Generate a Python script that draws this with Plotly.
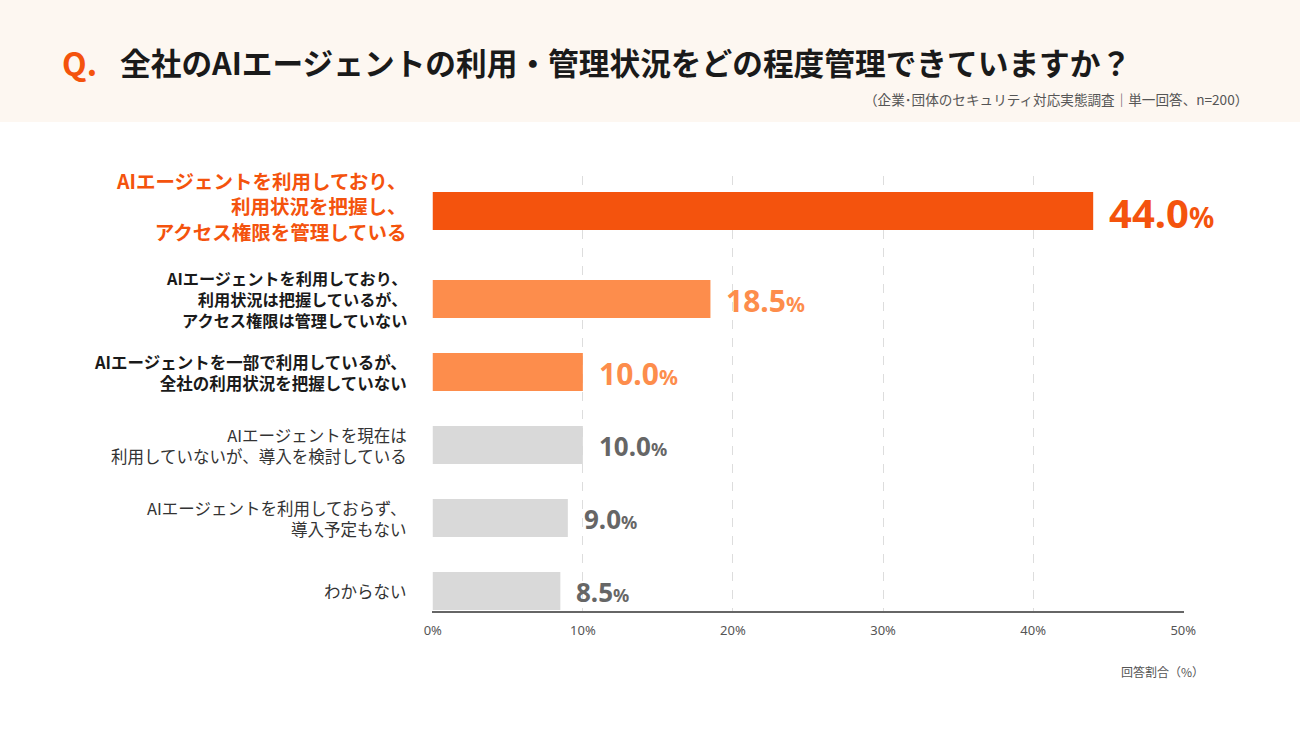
import plotly.graph_objects as go

categories = [
    "AIエージェントを利用しており、<br>利用状況を把握し、<br>アクセス権限を管理している",
    "AIエージェントを利用しており、<br>利用状況は把握しているが、<br>アクセス権限は管理していない",
    "AIエージェントを一部で利用しているが、<br>全社の利用状況を把握していない",
    "AIエージェントを現在は<br>利用していないが、導入を検討している",
    "AIエージェントを利用しておらず、<br>導入予定もない",
    "わからない",
]
values = [44.0, 18.5, 10.0, 10.0, 9.0, 8.5]
value_labels = ["44.0", "18.5", "10.0", "10.0", "9.0", "8.5"]
x_ticks = [0, 10, 20, 30, 40, 50]
x_tick_labels = ["0%", "10%", "20%", "30%", "40%", "50%"]

title_text = "全社のAIエージェントの利用・管理状況をどの程度管理できていますか？"
subtitle_text = "（企業･団体のセキュリティ対応実態調査｜単一回答、n=200）"
axis_title = "回答割合（%）"

W, H = 1300, 731
L, R, T, B = 432, 1184, 176, 611
STEP = 73.0   # px per category
BAR_PX = 38.0
LIFT = [15, 0, 0, 0, 0, 0]        # extra upward shift (px) of the highlighted row
LABEL_LIFT = [20, 0, 0, 0, 0, 0]

def px(x):
    return (x - L) / (R - L)

def py(y):
    return (B - y) / (B - T)

y_bottom = len(categories) - 1 + 20 / STEP
y_top = y_bottom - (B - T) / STEP
bar_w = BAR_PX / STEP

bar_colors = ["#F4530D", "#FD8D4C", "#FD8D4C", "#D9D9D9", "#D9D9D9", "#D9D9D9"]
label_colors = ["#F4530D", "#FD8D4C", "#FD8D4C", "#666666", "#666666", "#666666"]
label_sizes = [40, 30, 30, 26, 26, 26]
cat_styles = [
    dict(size=19.5, color="#F4530D", bold=True),
    dict(size=16.2, color="#1a1a1a", bold=True),
    dict(size=16.5, color="#1a1a1a", bold=True),
    dict(size=16.5, color="#333333", bold=False),
    dict(size=16.5, color="#333333", bold=False),
    dict(size=16.5, color="#333333", bold=False),
]

JP = "Noto Sans CJK JP"
COND = "Noto Sans, sans-serif"
STRETCH = "font-stretch:62.5%"

fig = go.Figure()
fig.add_trace(go.Bar(
    x=values,
    y=categories,
    orientation="h",
    marker=dict(color=bar_colors, line=dict(width=0)),
    width=bar_w,
    offset=[-bar_w / 2 - lf / STEP for lf in LIFT],
    hoverinfo="skip",
))

annotations = []
for cat, v, lab, col, sz, lf in zip(categories, values, value_labels, label_colors, label_sizes, LIFT):
    annotations.append(dict(
        x=v, y=cat, xref="x", yref="y",
        text=(f"<span style='{STRETCH}'>{lab}</span>"
              f"<span style='{STRETCH};font-size:{int(sz*0.7)}px'>%</span>"),
        showarrow=False, xanchor="left", yanchor="middle", xshift=14, yshift=-1 + lf,
        font=dict(family=COND, size=sz, color=col, weight=700),
    ))

for cat, st, lf in zip(categories, cat_styles, LABEL_LIFT):
    txt = f"<b>{cat}</b>" if st["bold"] else cat
    annotations.append(dict(
        x=px(409), y=cat, xref="paper", yref="y",
        text=txt, showarrow=False, xanchor="right", yanchor="middle", align="right",
        yshift=lf,
        font=dict(family=JP, size=st["size"], color=st["color"]),
    ))

annotations += [
    dict(x=px(60), y=py(62), xref="paper", yref="paper", text="<b>Q.</b>",
         showarrow=False, xanchor="left", yanchor="middle",
         font=dict(family=JP, size=32, color="#F4530D")),
    dict(x=px(118), y=py(61), xref="paper", yref="paper", text=f"<b>{title_text}</b>",
         showarrow=False, xanchor="left", yanchor="middle",
         font=dict(family=JP, size=30.7, color="#1a1a1a")),
    dict(x=px(1250), y=py(99), xref="paper", yref="paper", text=subtitle_text,
         showarrow=False, xanchor="right", yanchor="middle",
         font=dict(family=JP, size=13.6, color="#555555")),
    dict(x=px(1206), y=py(671), xref="paper", yref="paper", text=axis_title,
         showarrow=False, xanchor="right", yanchor="middle",
         font=dict(family=JP, size=12, color="#555555")),
]

shapes = [
    dict(type="rect", xref="paper", yref="paper", x0=px(-10), x1=px(W + 10),
         y0=py(122), y1=py(-10), fillcolor="#FDF7F1", line=dict(width=0), layer="below"),
]

fig.update_layout(
    width=W, height=H,
    margin=dict(l=L, r=W - R, t=T, b=H - B, pad=0),
    paper_bgcolor="white", plot_bgcolor="white",
    showlegend=False,
    annotations=annotations,
    shapes=shapes,
    xaxis=dict(
        range=[-0.05, 50.05], tickvals=x_ticks,
        ticktext=[f"<span style='{STRETCH}'>{t}</span>" for t in x_tick_labels],
        showgrid=True, gridcolor="#DDDDDD", griddash="dash", gridwidth=1,
        zeroline=False, showline=True, linecolor="#666666", linewidth=2,
        ticks="", tickfont=dict(family=COND, size=13, color="#555555"),
        ticklabelstandoff=6, fixedrange=True,
    ),
    yaxis=dict(
        range=[y_bottom, y_top], showticklabels=False, showgrid=False, zeroline=False,
        showline=False, ticks="", fixedrange=True,
    ),
)

fig.write_html(
    "out.html",
    post_script="document.body.style.margin='0';document.body.style.overflow='hidden';",
    config={"displayModeBar": False},
)
